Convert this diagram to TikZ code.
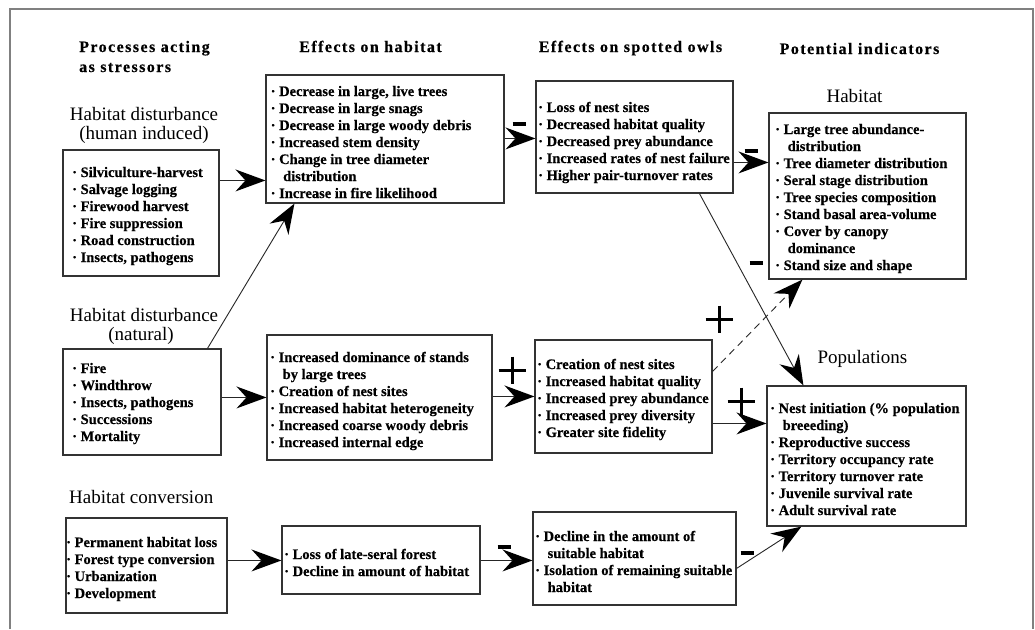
\documentclass[tikz,border=0pt]{standalone}
\usepackage{fontspec}
\setmainfont{Liberation Serif}
\usetikzlibrary{arrows.meta,calc}

% bullet and continuation indent for list lines
\newcommand\itm{·~}
\newcommand\cont{\hphantom{·~}\hspace*{4pt}}
% a framed panel given by its corner coordinates (x1,y1) (x2,y2)
\newcommand\panel[5]{\node[bx,minimum width={#4-#2},minimum height={#5-#3}] (#1) at ({(#2+#4)/2},{(#3+#5)/2}) {};}

\begin{document}
\begin{tikzpicture}[x=1pt,y=-1pt,
  bx/.style={draw=black!80,line width=1.1pt,inner sep=0pt,fill=white},
  txt/.style={inner sep=0pt,anchor=base west,font=\bfseries\fontsize{14.5}{17}\selectfont\addfontfeatures{FakeBold=0.4}},
  head/.style={inner sep=0pt,anchor=base,font=\bfseries\fontsize{16}{20}\selectfont\addfontfeatures{LetterSpace=9,FakeBold=0.4}},
  lbl/.style={inner sep=0pt,anchor=base,font=\fontsize{19}{20}\selectfont},
  conn/.style={draw=black!85,line width=0.9pt,
    -{Stealth[length=30pt,width=22pt,inset=10pt,line width=0pt,fill=black,color=black]}},
  minusbar/.style={line width=4.5pt,black},
  plusbar/.style={line width=3pt,black},
]
\useasboundingbox (0,0) rectangle (1035,629);
\fill[white] (0,0) rectangle (1035,629);

% outer frame (open at the bottom)
\draw[gray,line width=2pt] (10,629) -- (10,9) -- (1033,9) -- (1033,629);

% column headings
\node[head,anchor=base west] (h1a) at (79,52) {Processes acting};
\node[head,anchor=base west] (h1b) at (79,72) {as stressors};
\node[head] (h2) at (370.5,52) {Effects on habitat};
\node[head] (h3) at (630.5,52) {Effects on spotted owls};
\node[head] (h4) at (859.5,54) {Potential indicators};

% group labels
\node[lbl] (l1a) at (144,120) {Habitat disturbance};
\node[lbl] (l1b) at (144,139) {(human induced)};
\node[lbl] (l2a) at (144,321) {Habitat disturbance};
\node[lbl] (l2b) at (141,340) {(natural)};
\node[lbl,anchor=base west] (l3) at (69,503) {Habitat conversion};
\node[lbl] (l4) at (854.5,102) {Habitat};
\node[lbl] (l5) at (862.5,363) {Populations};

% panels
\panel{hum}{63}{150}{219}{276}
\panel{top}{266}{75}{504}{203}
\panel{owla}{536}{81}{733}{193}
\panel{hab}{769}{113}{966}{279}
\panel{nat}{63}{349}{221}{455}
\panel{mid}{267}{335}{492}{460}
\panel{owlb}{535}{340}{712}{453}
\panel{pop}{767}{386}{966}{526}
\panel{conv}{66}{518}{227}{613}
\panel{loss}{282}{526}{480}{594}
\panel{owlc}{533}{512}{736}{605}

% panel contents
\node[txt] (thum) at (72,177) {\begin{tabular}[t]{@{}l@{}}
\itm Silviculture-harvest\\ \itm Salvage logging\\ \itm Firewood harvest\\
\itm Fire suppression\\ \itm Road construction\\ \itm Insects, pathogens\end{tabular}};
\node[txt] (ttop) at (270.5,96) {\begin{tabular}[t]{@{}l@{}}
\itm Decrease in large, live trees\\ \itm Decrease in large snags\\
\itm Decrease in large woody debris\\ \itm Increased stem density\\
\itm Change in tree diameter\\ \cont distribution\\ \itm Increase in fire likelihood\end{tabular}};
\node[txt] (towla) at (538,112) {\begin{tabular}[t]{@{}l@{}}
\itm Loss of nest sites\\ \itm Decreased habitat quality\\ \itm Decreased prey abundance\\
\itm Increased rates of nest failure\\ \itm Higher pair-turnover rates\end{tabular}};
\node[txt] (thab) at (775,134) {\begin{tabular}[t]{@{}l@{}}
\itm Large tree abundance-\\ \cont distribution\\ \itm Tree diameter distribution\\
\itm Seral stage distribution\\ \itm Tree species composition\\ \itm Stand basal area-volume\\
\itm Cover by canopy\\ \cont dominance\\ \itm Stand size and shape\end{tabular}};
\node[txt] (tnat) at (72,373) {\begin{tabular}[t]{@{}l@{}}
\itm Fire\\ \itm Windthrow\\ \itm Insects, pathogens\\ \itm Successions\\ \itm Mortality\end{tabular}};
\node[txt] (tmid) at (270,362) {\begin{tabular}[t]{@{}l@{}}
\itm Increased dominance of stands\\ \cont by large trees\\ \itm Creation of nest sites\\
\itm Increased habitat heterogeneity\\ \itm Increased coarse woody debris\\
\itm Increased internal edge\end{tabular}};
\node[txt] (towlb) at (537,369) {\begin{tabular}[t]{@{}l@{}}
\itm Creation of nest sites\\ \itm Increased habitat quality\\ \itm Increased prey abundance\\
\itm Increased prey diversity\\ \itm Greater site fidelity\end{tabular}};
\node[txt] (tpop) at (770,413) {\begin{tabular}[t]{@{}l@{}}
\itm Nest initiation (\% population\\ \cont breeeding)\\ \itm Reproductive success\\
\itm Territory occupancy rate\\ \itm Territory turnover rate\\ \itm Juvenile survival rate\\
\itm Adult survival rate\end{tabular}};
\node[txt] (tconv) at (66,547) {\begin{tabular}[t]{@{}l@{}}
\itm Permanent habitat loss\\ \itm Forest type conversion\\ \itm Urbanization\\ \itm Development\end{tabular}};
\node[txt] (tloss) at (284,559) {\begin{tabular}[t]{@{}l@{}}
\itm Loss of late-seral forest\\ \itm Decline in amount of habitat\end{tabular}};
\node[txt] (towlc) at (535,541) {\begin{tabular}[t]{@{}l@{}}
\itm Decline in the amount of\\ \cont suitable habitat\\ \itm Isolation of remaining suitable\\ \cont habitat\end{tabular}};

% connectors
\draw[conn] ($(hum.north east)+(0,31)$) -- ($(top.north west)+(0,106)$);
\draw[conn] ($(nat.north west)+(145,0)$) -- ($(top.south west)+(29,0)$);
\draw[conn] ($(top.north east)+(0,64)$) -- ($(owla.north west)+(0,58)$);
\draw[conn] ($(owla.north east)+(0,82)$) -- ($(hab.north west)+(0,50)$);
\draw[conn] ($(owla.south west)+(164,0)$) -- ($(pop.north west)+(37,0)$);
\draw[conn] ($(nat.north east)+(0,49)$) -- ($(mid.north west)+(0,63)$);
\draw[conn] ($(mid.north east)+(0,62)$) -- ($(owlb.north west)+(0,57)$);
\draw[conn,dash pattern=on 7pt off 5pt] ($(owlb.north east)+(0,32)$) -- ($(hab.south west)+(34,0)$);
\draw[conn] ($(owlb.north east)+(0,84)$) -- ($(pop.north west)+(0,38)$);
\draw[conn] ($(conv.north east)+(0,43)$) -- ($(loss.north west)+(0,35)$);
\draw[conn] ($(loss.north east)+(0,35)$) -- ($(owlc.north west)+(0,49)$);
\draw[conn] ($(owlc.north east)+(0,57)$) -- ($(pop.south west)+(35,0)$);

% signs of the effects
\foreach \cx/\cy in {519/124, 751/151, 756/263, 504/547, 747/553}
  \draw[minusbar] (\cx-6.5,\cy) -- (\cx+6.5,\cy);
\foreach \cx/\cy in {512/370, 719/319, 741/401}
  \draw[plusbar] (\cx-13.5,\cy) -- (\cx+13.5,\cy) (\cx,\cy-13.5) -- (\cx,\cy+13.5);
\end{tikzpicture}
\end{document}
